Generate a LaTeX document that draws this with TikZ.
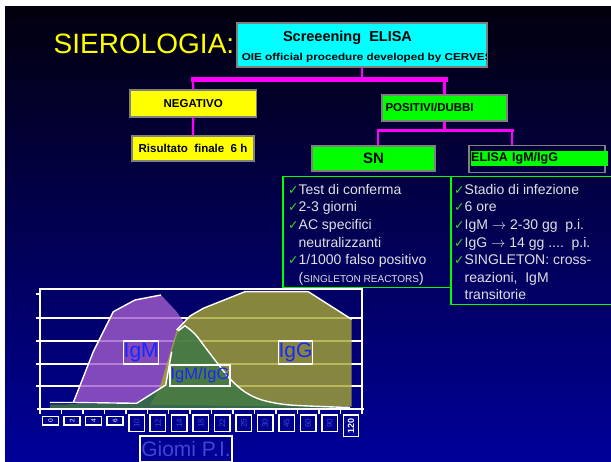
\documentclass[tikz,border=0pt]{standalone}
\usepackage{fontspec}
\setmainfont{Liberation Sans}
\newfontfamily\symfont{DejaVu Sans}
\usetikzlibrary{positioning}
\definecolor{cslide}{rgb}{0.0, 0.0, 0.6}
\definecolor{cslidetop}{rgb}{0.01, 0.0, 0.05}
\definecolor{cslidemid}{rgb}{0.0, 0.0, 0.36}
\definecolor{cmag}{rgb}{1.0, 0.0, 1.0}
\definecolor{ccyan}{rgb}{0.0, 1.0, 1.0}
\definecolor{cyellow}{rgb}{1.0, 1.0, 0.0}
\definecolor{cgreen}{rgb}{0.0, 1.0, 0.0}
\definecolor{ccheck}{rgb}{0.2, 0.85, 0.2}
\definecolor{cborder}{rgb}{0.5, 0.5, 0.5}
\definecolor{ctext}{rgb}{0.88, 0.88, 0.9}
\definecolor{cpurple}{rgb}{0.64, 0.36, 0.8}
\definecolor{colive}{rgb}{0.66, 0.66, 0.2}
\definecolor{cdkgreen}{rgb}{0.25, 0.47, 0.27}
\definecolor{clabel}{rgb}{0.1, 0.15, 1.0}
\definecolor{cfaint}{rgb}{0.25, 0.28, 0.8}

\newcommand{\ck}{{\color{ccheck}\symfont\fontsize{12.5}{12.5}\selectfont ✓}}
\newcommand{\fs}[1]{\fontsize{#1}{#1}\selectfont}

\begin{document}
\begin{tikzpicture}[x=1pt, y=-1pt,
  graybox/.style={draw=cborder, line width=1.8pt, inner sep=0pt},
  magline/.style={draw=cmag, line width=2.2pt},
  magbus/.style={draw=cmag, line width=4.5pt, line cap=rect},
  listbox/.style={draw=cgreen, line width=1.5pt, inner sep=0pt, anchor=north west},
  listtext/.style={anchor=north west, inner sep=0pt, align=left, text=ctext, font=\fontsize{14}{17.6}\selectfont},
  gridline/.style={white, line width=2.5pt},
  outline/.style={white, line width=1.4pt, line join=round},
  chartlbl/.style={draw=white, line width=1.5pt, inner sep=0pt, text=clabel},
  catbox/.style={draw=white, line width=1.5pt, inner sep=0pt, font=\fs{8}},
]
  \useasboundingbox (0,0) rectangle (611,462);
  \fill[white] (0,0) rectangle (611,462);
  \shade[top color=cslidetop, middle color=cslidemid, bottom color=cslide] (5,7) rectangle (611,462);

  \node[anchor=base west, inner sep=0pt, text=cyellow, font=\fs{28}] (title) at (53.5,53.3) {SIEROLOGIA:};

  % screening box
  \node[graybox, fill=ccyan, minimum width=250pt, minimum height=43.4pt] (screen) at (362,45) {};
  \begin{scope}
    \clip ([xshift=1pt]screen.north west) rectangle ([xshift=-1pt]screen.south east);
    \node[anchor=base, inner sep=0pt, font=\fs{14.5}\bfseries] (screentitle) at (347.5,41.7) {Screeening\ \ ELISA};
    \node[anchor=base west, inner sep=0pt, font=\fs{10}\bfseries] (screensub) at (241.6,61) {\scalebox{1.17}[1]{OIE official procedure developed by CERVES}};
  \end{scope}

  \node[graybox, fill=cyellow, minimum width=126.5pt, minimum height=27.3pt, font=\fs{11.5}\bfseries] (neg) at (193.2,103.7) {NEGATIVO};
  \node[graybox, fill=cyellow, minimum width=122.6pt, minimum height=25pt, font=\fs{11.5}\bfseries] (res) at (193,148.5) {Risultato\ \ finale\ \ 6 h};
  \node[graybox, fill=cgreen, text width=118pt, inner xsep=3.5pt, minimum height=25.7pt, align=left, font=\fs{11.5}\bfseries] (pos) at (444.5,107.9) {POSITIVI/DUBBI};
  \node[graybox, fill=cgreen, minimum width=123pt, minimum height=25pt, font=\fs{15}\bfseries] (sn) at (373.5,158.2) {SN};
  \node[graybox, minimum width=136pt, minimum height=27pt] (elisa) at (537,159.1) {};
  \node[fill=cgreen, anchor=west, inner sep=0pt, text width=137pt, minimum height=14.7pt, align=left, font=\fs{12.5}\bfseries] (elisaband) at (471,158.3) {ELISA IgM/IgG};

  % magenta tree
  \coordinate (busL) at (193,79.5);
  \coordinate (busR) at (446,79.5);
  \draw[magline] (screen.south) -- (screen.south |- busL);
  \draw[magbus] (busL) -- (busR);
  \draw[magline] (busL) -- (neg.north);
  \draw[magline] (busL -| pos.north) -- (pos.north);
  \draw[magline] (neg.south) -- (res.north);

  \coordinate (bus2L) at (378,130.5);
  \coordinate (bus2R) at (512,130.5);
  \draw[magline, line width=2.8pt] (pos.south) -- (pos.south |- bus2L);
  \draw[magline, line width=3pt, line cap=rect] (bus2L) -- (bus2R);
  \draw[magline] (bus2L) -- (bus2L |- sn.north);
  \draw[magline] (bus2R) -- (bus2R |- elisa.north);

  % lists
  \node[listbox, minimum width=168pt, minimum height=110.7pt] (snlist) at (282,176) {};
  \node[listbox, minimum width=170pt, minimum height=128pt] (elisalist) at (450,176) {};
  \node[listtext] (sntext) at (288,184) {\ck Test di conferma\\
    \ck 2-3 giorni\\
    \ck AC specifici\\
    \phantom{\ck}neutralizzanti\\
    \ck 1/1000 falso positivo\\
    \phantom{\ck}({\fs{10}SINGLETON REACTORS})};
  \node[listtext] (elisatext) at (454,184) {\ck Stadio di infezione\\
    \ck 6 ore\\
    \ck IgM $\rightarrow$ 2-30 gg\ \ p.i.\\
    \ck IgG $\rightarrow$ 14 gg ....\ \ p.i.\\
    \ck SINGLETON: cross-\\
    \phantom{\ck}reazioni,\ \ IgM\\
    \phantom{\ck}transitorie};

  % chart grid
  \foreach \gy in {318,341,364,386}
    \draw[gridline] (36,\gy) -- (362,\gy);
  \draw[gridline] (36,294) -- (40,294);
  \draw[gridline] (40,409) -- (40,289) -- (362,289) -- (362,409);

  % areas
  \fill[cpurple, fill opacity=0.8] (73.3,402.5) -- (93.3,351.7) -- (113.3,311.7) -- (135,300) -- (161,295) -- (176,311) -- (184,322) -- (172,350) -- (165.7,385) -- (136.7,403.3) -- cycle;
  \fill[colive, fill opacity=0.8] (150,405) -- (160,386.7) -- (176.7,330) -- (190,316) -- (203.3,308.3) -- (245,291.7) -- (308.3,291.7) -- (351.7,319.3) -- (351.7,406.7) -- cycle;
  \fill[cdkgreen, fill opacity=0.85] (50,409) -- (50,404.5) -- (136.7,403.3) -- (165.7,385) -- (171.7,351.7) -- (178,331) -- plot[smooth] coordinates {(185,325.7) (195,334) (205,347) (218,364) (230,379) (245,392) (262,400) (290,405) (350,407.5)} -- (350,409) -- cycle;

  \draw[outline] (50,402.5) -- (73.3,402.5) -- (93.3,351.7) -- (113.3,311.7) -- (135,300) -- (161,295);
  \draw[outline] (73.3,402.5) -- (136.7,403.3) -- (165.7,385) -- (171.7,351.7);
  \draw[outline] (176.7,330) -- (190,316) -- (203.3,308.3) -- (245,291.7) -- (308.3,291.7) -- (351.7,319.3);
  \draw[outline] (178,331) -- plot[smooth] coordinates {(185,325.7) (195,334) (205,347) (218,364) (230,379) (245,392) (262,400) (290,405) (350,407.5)};

  % x axis
  \draw[gridline] (37,409) -- (364,409);
  \foreach \i in {0,...,15}
    \draw[white, line width=1.5pt] ({40+21.45*\i},409) -- ++(0,5);

  \node[chartlbl, minimum width=34.3pt, minimum height=23pt, font=\fs{21}] (lblIgM) at (141.2,352.5) {IgM};
  \node[chartlbl, minimum width=60pt, minimum height=21pt, font=\fs{16.5}] (lblmix) at (200,375.5) {IgM/IgG};
  \node[chartlbl, minimum width=34.3pt, minimum height=23pt, font=\fs{21}] (lblIgG) at (295.5,352.5) {IgG};

  \foreach \lbl [count=\i from 0] in {0,2,4,6}
    \node[catbox, minimum width=16pt, minimum height=8.3pt, text=white, font=\fs{6.5}] (cat\i) at ({40+21.45*(\i+0.5)},420.8) {\rotatebox{90}{\lbl}};
  \foreach \lbl [count=\i from 4] in {10,12,14,18,22,25,30,45,60,90}
    \node[catbox, minimum width=15.5pt, minimum height=16.7pt, text=cfaint] (cat\i) at ({40+21.45*(\i+0.5)},423.3) {\rotatebox{90}{\lbl}};
  \node[catbox, minimum width=15pt, minimum height=21.7pt, text=white, font=\fs{9}\bfseries] (cat14) at ({40+21.45*14.5},425.8) {\rotatebox{90}{120}};

  \node[draw=white, line width=1.5pt, inner sep=0pt, minimum width=92pt, minimum height=25.7pt, text=cfaint, font=\fs{21}] (xlabel) at (186,449) {Giomi P.I.};
\end{tikzpicture}
\end{document}
